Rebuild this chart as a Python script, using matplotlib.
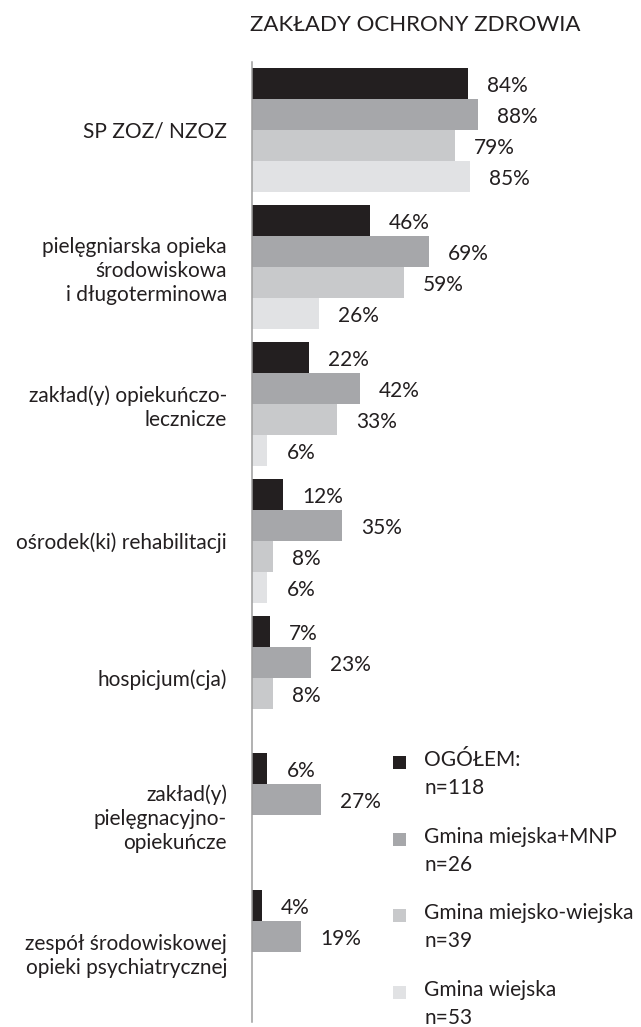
import matplotlib
matplotlib.use("Agg")
import matplotlib.pyplot as plt
from matplotlib.patches import Rectangle
import numpy as np

plt.rcParams['font.family'] = ['Lato', 'DejaVu Sans']

title = "ZAKŁADY OCHRONY ZDROWIA"
categories = [
    "SP ZOZ/ NZOZ",
    "pielęgniarska opieka\nśrodowiskowa\ni długoterminowa",
    "zakład(y) opiekuńczo-\nlecznicze",
    "ośrodek(ki) rehabilitacji",
    "hospicjum(cja)",
    "zakład(y)\npielęgnacyjno-\nopiekuńcze",
    "zespół środowiskowej\nopieki psychiatrycznej",
]
series_names = ["OGÓŁEM:\nn=118", "Gmina miejska+MNP\nn=26",
                "Gmina miejsko-wiejska\nn=39", "Gmina wiejska\nn=53"]
ogolem = [84, 46, 22, 12, 7, 6, 4]
miejska = [88, 69, 42, 35, 23, 27, 19]
miejsko_wiejska = [79, 59, 33, 8, 8, None, None]
wiejska = [85, 26, 6, 6, None, None, None]

series = [ogolem, miejska, miejsko_wiejska, wiejska]
colors = ["#231f20", "#a6a7aa", "#c8c9cb", "#e1e2e4"]

W, H = 641, 1027
fig = plt.figure(figsize=(W / 100, H / 100), dpi=100)
ax = fig.add_axes([252 / W, 5 / H, 257 / W, 960 / H])

group_pitch = 4.42
txt_color = "#231f20"
for s, (vals, col) in enumerate(zip(series, colors)):
    for g, v in enumerate(vals):
        if v is None:
            continue
        y = g * group_pitch + s + 0.5
        ax.barh(y, v, height=1.0, color=col, edgecolor="none")
        ax.annotate(f"{v}%", xy=(v, y), xytext=(19, -3),
                    textcoords="offset pixels", ha="left", va="center",
                    fontsize=15, color=txt_color)

ax.set_xlim(0, 100)
ax.set_ylim(30.78, -0.19)
centers = [g * group_pitch + 2 for g in range(len(categories))]
ax.set_yticks(centers)
ax.set_yticklabels(categories, fontsize=15, color=txt_color,
                   linespacing=1.25)
ax.tick_params(axis="y", length=0, pad=18)
ax.set_xticks([])
for sp in ["top", "right", "bottom"]:
    ax.spines[sp].set_visible(False)
ax.spines["left"].set_color("#9d9d9d")
ax.spines["left"].set_linewidth(1.1)

fig.text(415 / W, 1 - 25 / H, title, ha="center", va="center",
         fontsize=16, color=txt_color)

# legend
leg_y = [762, 839, 915, 992]
for name, col, yy in zip(series_names, colors, leg_y):
    fig.add_artist(Rectangle((393 / W, 1 - (yy + 6.5) / H), 13 / W, 13 / H,
                             transform=fig.transFigure, color=col, lw=0))
    fig.text(424 / W, 1 - (yy - 12) / H, name, ha="left", va="top",
             fontsize=15, color=txt_color, linespacing=1.5)

fig.savefig("out.png", dpi=100)
